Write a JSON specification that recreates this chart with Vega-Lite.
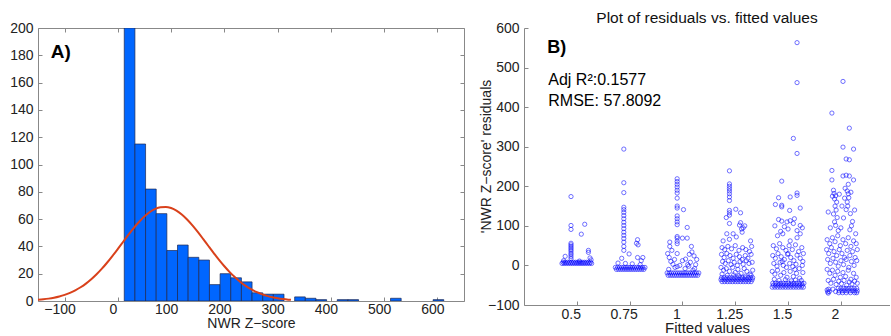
{
  "$schema": "https://vega.github.io/schema/vega-lite/v6.json",
  "background": "white",
  "padding": {"left": 9, "top": 10, "right": 0, "bottom": 0},
  "bounds": "flush",
  "spacing": 60,
  "config": {
    "font": "Liberation Sans",
    "view": {"stroke": null},
    "axis": {
      "domainColor": "#888888",
      "tickColor": "#888888",
      "labelColor": "#222222",
      "titleColor": "#222222",
      "labelFontSize": 14,
      "titleFontSize": 14,
      "titleFontWeight": "normal",
      "grid": false,
      "tickSize": -4,
      "tickWidth": 1,
      "domainWidth": 1
    }
  },
  "hconcat": [
    {
      "width": 426,
      "height": 273,
      "view": {"stroke": "#888888", "strokeWidth": 1},
      "layer": [
        {
          "data": {"values": [
            {"b0": 12, "b1": 32, "n": 200},
            {"b0": 32, "b1": 52, "n": 115},
            {"b0": 52, "b1": 72, "n": 82},
            {"b0": 72, "b1": 92, "n": 64},
            {"b0": 92, "b1": 112, "n": 37},
            {"b0": 112, "b1": 132, "n": 41},
            {"b0": 132, "b1": 152, "n": 32},
            {"b0": 152, "b1": 172, "n": 30},
            {"b0": 172, "b1": 192, "n": 12},
            {"b0": 192, "b1": 212, "n": 20},
            {"b0": 212, "b1": 232, "n": 17},
            {"b0": 232, "b1": 252, "n": 14},
            {"b0": 252, "b1": 272, "n": 6},
            {"b0": 272, "b1": 292, "n": 5},
            {"b0": 292, "b1": 312, "n": 5},
            {"b0": 332, "b1": 352, "n": 3},
            {"b0": 352, "b1": 372, "n": 2},
            {"b0": 372, "b1": 392, "n": 1},
            {"b0": 412, "b1": 432, "n": 1},
            {"b0": 432, "b1": 452, "n": 1},
            {"b0": 512, "b1": 532, "n": 2},
            {"b0": 592, "b1": 612, "n": 1}
          ]},
          "mark": {"type": "rect", "fill": "#0066FF", "stroke": "#1c2650", "strokeWidth": 0.7, "clip": true},
          "encoding": {
            "x": {"field": "b0", "type": "quantitative",
                  "scale": {"domain": [-150, 650], "nice": false, "zero": false},
                  "axis": {"values": [-100, 0, 100, 200, 300, 400, 500, 600], "domain": false, "title": "NWR Z−score", "labelOffset": -5, "labelPadding": 5, "titlePadding": 0}},
            "x2": {"field": "b1"},
            "y": {"field": "n", "type": "quantitative",
                  "scale": {"domain": [0, 200], "nice": false},
                  "axis": {"values": [0, 20, 40, 60, 80, 100, 120, 140, 160, 180, 200], "domain": false, "title": null, "labelPadding": 9}},
            "y2": {"datum": 0}
          }
        },
        {
          "data": {"values": [
            {"x": -150, "f": 0.86}, {"x": -140, "f": 1.23}, {"x": -130, "f": 1.74}, {"x": -120, "f": 2.43},
            {"x": -110, "f": 3.33}, {"x": -100, "f": 4.49}, {"x": -90, "f": 5.97}, {"x": -80, "f": 7.81},
            {"x": -70, "f": 10.06}, {"x": -60, "f": 12.76}, {"x": -50, "f": 15.93}, {"x": -40, "f": 19.57},
            {"x": -30, "f": 23.69}, {"x": -20, "f": 28.21}, {"x": -10, "f": 33.09}, {"x": 0, "f": 38.2},
            {"x": 10, "f": 43.42}, {"x": 20, "f": 48.59}, {"x": 30, "f": 53.53}, {"x": 40, "f": 58.06},
            {"x": 50, "f": 62.0}, {"x": 60, "f": 65.18}, {"x": 70, "f": 67.46}, {"x": 80, "f": 68.74},
            {"x": 90, "f": 68.95}, {"x": 100, "f": 68.1}, {"x": 110, "f": 66.21}, {"x": 120, "f": 63.37},
            {"x": 130, "f": 59.72}, {"x": 140, "f": 55.4}, {"x": 150, "f": 50.6}, {"x": 160, "f": 45.51},
            {"x": 170, "f": 40.28}, {"x": 180, "f": 35.11}, {"x": 190, "f": 30.12}, {"x": 200, "f": 25.45},
            {"x": 210, "f": 21.16}, {"x": 220, "f": 17.33}, {"x": 230, "f": 13.97}, {"x": 240, "f": 11.08},
            {"x": 250, "f": 8.66}, {"x": 260, "f": 6.66}, {"x": 270, "f": 5.04}, {"x": 280, "f": 3.76},
            {"x": 290, "f": 2.76}, {"x": 300, "f": 1.99}, {"x": 310, "f": 1.42}, {"x": 320, "f": 0.99},
            {"x": 325, "f": 0.83}
          ]},
          "mark": {"type": "line", "color": "#D9411B", "strokeWidth": 2, "clip": true, "interpolate": "monotone"},
          "encoding": {
            "x": {"field": "x", "type": "quantitative",
                  "axis": {"orient": "top", "values": [-100, 0, 100, 200, 300, 400, 500, 600], "labels": false, "domain": false, "title": null}},
            "y": {"field": "f", "type": "quantitative",
                  "axis": {"orient": "right", "values": [0, 20, 40, 60, 80, 100, 120, 140, 160, 180, 200], "labels": false, "domain": false, "title": null}}
          }
        },
        {
          "data": {"values": [{"t": "A)"}]},
          "mark": {"type": "text", "fontSize": 19, "fontWeight": "bold", "align": "left", "baseline": "alphabetic", "color": "#000000"},
          "encoding": {
            "x": {"datum": -126, "type": "quantitative", "axis": null},
            "y": {"datum": 178, "type": "quantitative", "axis": null},
            "text": {"field": "t"}
          }
        }
      ],
      "resolve": {"axis": {"x": "independent", "y": "independent"}}
    },
    {
      "width": 366,
      "height": 277,
      "title": {"text": "Plot of residuals vs. fitted values", "fontSize": 15.5, "fontWeight": "normal", "color": "#111111", "offset": -5},
      "layer": [
        {
          "data": {"values": [
            {"x":0.89,"y":174},{"x":0.89,"y":101},{"x":0.89,"y":91},{"x":1.15,"y":104},{"x":1.085,"y":79},
            {"x":0.89,"y":56},{"x":0.89,"y":52},{"x":0.89,"y":48},{"x":0.89,"y":44},{"x":0.89,"y":40},{"x":0.89,"y":36},{"x":0.89,"y":31},{"x":0.89,"y":27},{"x":0.89,"y":22},{"x":0.89,"y":17},
            {"x":1.22,"y":38},{"x":1.22,"y":33},{"x":0.78,"y":23},{"x":1.25,"y":19},{"x":1.27,"y":14},{"x":0.75,"y":12},{"x":1.05,"y":11},
            {"x":0.72,"y":5},{"x":0.76,"y":5},{"x":0.8,"y":5},{"x":0.84,"y":5},{"x":0.88,"y":5},{"x":0.92,"y":5},{"x":0.96,"y":5},{"x":1.0,"y":5},{"x":1.04,"y":5},{"x":1.08,"y":5},{"x":1.12,"y":5},{"x":1.16,"y":5},{"x":1.2,"y":5},{"x":1.24,"y":5},{"x":1.28,"y":5},
            {"x":0.74,"y":8},{"x":0.78,"y":8},{"x":0.82,"y":8},{"x":0.86,"y":8},{"x":0.9,"y":8},{"x":0.94,"y":8},{"x":0.98,"y":8},{"x":1.02,"y":8},{"x":1.06,"y":8},{"x":1.1,"y":8},{"x":1.14,"y":8},{"x":1.18,"y":8},{"x":1.22,"y":8},{"x":1.26,"y":8},

            {"x":1.89,"y":294},{"x":1.89,"y":209},{"x":1.89,"y":184},
            {"x":1.89,"y":147},{"x":1.89,"y":141},{"x":1.89,"y":134},{"x":1.89,"y":126},{"x":1.89,"y":118},{"x":1.89,"y":109},{"x":1.89,"y":101},{"x":1.89,"y":93},{"x":1.89,"y":84},{"x":1.89,"y":76},{"x":1.89,"y":68},{"x":1.89,"y":59},{"x":1.89,"y":48},{"x":1.89,"y":38},
            {"x":2.15,"y":65},{"x":2.13,"y":56},{"x":2.16,"y":52},{"x":1.99,"y":29},{"x":1.85,"y":18},{"x":2.15,"y":20},{"x":2.25,"y":20},{"x":2.22,"y":12},{"x":1.78,"y":6},{"x":2.05,"y":4},{"x":2.2,"y":2},{"x":1.92,"y":5},
            {"x":1.73,"y":-5},{"x":1.77,"y":-5},{"x":1.81,"y":-5},{"x":1.85,"y":-5},{"x":1.89,"y":-5},{"x":1.93,"y":-5},{"x":1.97,"y":-5},{"x":2.01,"y":-5},{"x":2.05,"y":-5},{"x":2.09,"y":-5},{"x":2.13,"y":-5},{"x":2.17,"y":-5},{"x":2.21,"y":-5},{"x":2.25,"y":-5},{"x":2.29,"y":-5},
            {"x":1.75,"y":-10},{"x":1.79,"y":-10},{"x":1.83,"y":-10},{"x":1.87,"y":-10},{"x":1.91,"y":-10},{"x":1.95,"y":-10},{"x":1.99,"y":-10},{"x":2.03,"y":-10},{"x":2.07,"y":-10},{"x":2.11,"y":-10},{"x":2.15,"y":-10},{"x":2.19,"y":-10},{"x":2.23,"y":-10},{"x":2.27,"y":-10},

            {"x":2.9,"y":219},{"x":2.9,"y":212},{"x":2.9,"y":205},{"x":2.9,"y":198},{"x":2.9,"y":190},{"x":2.9,"y":183},{"x":2.9,"y":170},{"x":2.9,"y":150},{"x":2.9,"y":145},{"x":2.9,"y":125},{"x":2.9,"y":118},{"x":2.9,"y":110},{"x":2.9,"y":103},{"x":2.9,"y":73},{"x":2.9,"y":69},{"x":2.9,"y":61},{"x":2.9,"y":55},
            {"x":3.02,"y":141},{"x":3.09,"y":96},{"x":3.0,"y":69},{"x":3.09,"y":69},{"x":2.76,"y":59},{"x":2.76,"y":48},{"x":3.17,"y":48},{"x":3.18,"y":34},{"x":3.13,"y":28},{"x":3.22,"y":24},{"x":3.27,"y":15},
            {"x":2.75,"y":20},{"x":2.78,"y":10},{"x":2.82,"y":3},{"x":2.86,"y":-5},{"x":2.95,"y":0},{"x":3.05,"y":-8},{"x":3.1,"y":2},{"x":3.15,"y":8},{"x":3.25,"y":2},{"x":2.74,"y":-10},{"x":3.2,"y":-12},{"x":3.0,"y":12},{"x":2.9,"y":-3},{"x":2.72,"y":30},{"x":2.8,"y":38},{"x":2.9,"y":30},{"x":3.06,"y":16},{"x":3.12,"y":-2},{"x":3.23,"y":-8},{"x":2.85,"y":15},
            {"x":2.71,"y":-19},{"x":2.75,"y":-19},{"x":2.79,"y":-19},{"x":2.83,"y":-19},{"x":2.87,"y":-19},{"x":2.91,"y":-19},{"x":2.95,"y":-19},{"x":2.99,"y":-19},{"x":3.03,"y":-19},{"x":3.07,"y":-19},{"x":3.11,"y":-19},{"x":3.15,"y":-19},{"x":3.19,"y":-19},{"x":3.23,"y":-19},{"x":3.27,"y":-19},{"x":3.31,"y":-19},
            {"x":2.73,"y":-25},{"x":2.77,"y":-25},{"x":2.81,"y":-25},{"x":2.85,"y":-25},{"x":2.89,"y":-25},{"x":2.93,"y":-25},{"x":2.97,"y":-25},{"x":3.01,"y":-25},{"x":3.05,"y":-25},{"x":3.09,"y":-25},{"x":3.13,"y":-25},{"x":3.17,"y":-25},{"x":3.21,"y":-25},{"x":3.25,"y":-25},{"x":3.29,"y":-25},

            {"x":3.89,"y":239},{"x":3.89,"y":206},{"x":3.89,"y":200},{"x":3.89,"y":194},{"x":3.89,"y":188},{"x":3.89,"y":181},{"x":3.89,"y":173},{"x":3.89,"y":164},{"x":3.89,"y":139},{"x":3.89,"y":133},{"x":3.89,"y":127},
            {"x":4.01,"y":142},{"x":4.1,"y":133},{"x":3.83,"y":121},{"x":3.89,"y":106},{"x":4.1,"y":108},{"x":4.08,"y":102},{"x":4.12,"y":92},{"x":4.13,"y":84},{"x":3.84,"y":80},{"x":3.89,"y":66},{"x":3.96,"y":80},{"x":4.02,"y":72},{"x":3.77,"y":62},{"x":4.29,"y":62},{"x":4.18,"y":100},{"x":4.15,"y":95},
            {"x":3.75,"y":45},{"x":3.8,"y":40},{"x":3.86,"y":48},{"x":3.93,"y":42},{"x":4.0,"y":50},{"x":4.07,"y":38},{"x":4.14,"y":45},{"x":4.2,"y":40},{"x":4.27,"y":35},{"x":4.31,"y":48},
            {"x":3.74,"y":28},{"x":3.79,"y":20},{"x":3.84,"y":30},{"x":3.9,"y":25},{"x":3.96,"y":18},{"x":4.02,"y":28},{"x":4.08,"y":22},{"x":4.13,"y":15},{"x":4.19,"y":25},{"x":4.24,"y":18},{"x":4.3,"y":28},
            {"x":3.76,"y":10},{"x":3.81,"y":5},{"x":3.87,"y":12},{"x":3.92,"y":2},{"x":3.98,"y":8},{"x":4.04,"y":0},{"x":4.09,"y":10},{"x":4.15,"y":3},{"x":4.21,"y":12},{"x":4.26,"y":5},{"x":4.32,"y":8},
            {"x":3.73,"y":-5},{"x":3.78,"y":-12},{"x":3.83,"y":-8},{"x":3.89,"y":-15},{"x":3.95,"y":-5},{"x":4.0,"y":-18},{"x":4.05,"y":-10},{"x":4.11,"y":-20},{"x":4.17,"y":-8},{"x":4.22,"y":-15},{"x":4.28,"y":-22},{"x":4.33,"y":-12},
            {"x":3.75,"y":-22},{"x":3.85,"y":-25},{"x":3.97,"y":-24},{"x":4.07,"y":-26},{"x":4.19,"y":-27},{"x":4.3,"y":-25},
            {"x":3.74,"y":-31},{"x":3.79,"y":-31},{"x":3.84,"y":-31},{"x":3.89,"y":-31},{"x":3.94,"y":-31},{"x":3.99,"y":-31},{"x":4.04,"y":-31},{"x":4.09,"y":-31},{"x":4.14,"y":-31},{"x":4.19,"y":-31},{"x":4.24,"y":-31},{"x":4.29,"y":-31},{"x":4.33,"y":-31},
            {"x":3.73,"y":-36},{"x":3.77,"y":-36},{"x":3.82,"y":-36},{"x":3.87,"y":-36},{"x":3.92,"y":-36},{"x":3.97,"y":-36},{"x":4.02,"y":-36},{"x":4.07,"y":-36},{"x":4.12,"y":-36},{"x":4.17,"y":-36},{"x":4.22,"y":-36},{"x":4.27,"y":-36},{"x":4.32,"y":-36},
            {"x":3.75,"y":-41},{"x":3.8,"y":-41},{"x":3.85,"y":-41},{"x":3.9,"y":-41},{"x":3.95,"y":-41},{"x":4.0,"y":-41},{"x":4.05,"y":-41},{"x":4.1,"y":-41},{"x":4.15,"y":-41},{"x":4.2,"y":-41},{"x":4.25,"y":-41},{"x":4.3,"y":-41},

            {"x":5.17,"y":563},{"x":5.17,"y":462},{"x":5.1,"y":321},{"x":5.17,"y":283},{"x":4.88,"y":213},{"x":5.17,"y":183},{"x":5.17,"y":177},{"x":5.04,"y":173},{"x":4.82,"y":171},{"x":4.76,"y":154},{"x":4.88,"y":152},{"x":4.88,"y":148},{"x":5.23,"y":145},{"x":5.03,"y":139},
            {"x":4.82,"y":116},{"x":4.88,"y":112},{"x":4.98,"y":110},{"x":5.04,"y":113},{"x":5.23,"y":101},{"x":5.23,"y":80},{"x":5.1,"y":106},{"x":4.86,"y":86},{"x":4.9,"y":80},{"x":5.0,"y":92},{"x":5.04,"y":62},{"x":5.17,"y":88},{"x":5.17,"y":70},{"x":4.75,"y":100},{"x":4.8,"y":75},{"x":5.27,"y":95},{"x":4.93,"y":98},{"x":5.12,"y":118},
            {"x":4.72,"y":50},{"x":4.78,"y":42},{"x":4.84,"y":55},{"x":4.9,"y":45},{"x":4.96,"y":38},{"x":5.02,"y":50},{"x":5.08,"y":40},{"x":5.14,"y":52},{"x":5.2,"y":35},{"x":5.26,"y":45},{"x":5.29,"y":30},
            {"x":4.71,"y":25},{"x":4.76,"y":18},{"x":4.81,"y":30},{"x":4.87,"y":22},{"x":4.93,"y":15},{"x":4.99,"y":28},{"x":5.05,"y":20},{"x":5.11,"y":12},{"x":5.17,"y":26},{"x":5.23,"y":18},{"x":5.28,"y":10},
            {"x":4.73,"y":5},{"x":4.79,"y":-2},{"x":4.85,"y":8},{"x":4.91,"y":0},{"x":4.97,"y":-5},{"x":5.03,"y":5},{"x":5.09,"y":-3},{"x":5.15,"y":3},{"x":5.21,"y":-8},{"x":5.27,"y":0},
            {"x":4.7,"y":-15},{"x":4.75,"y":-22},{"x":4.8,"y":-12},{"x":4.86,"y":-25},{"x":4.92,"y":-18},{"x":4.98,"y":-30},{"x":5.04,"y":-15},{"x":5.1,"y":-28},{"x":5.16,"y":-20},{"x":5.22,"y":-32},{"x":5.28,"y":-18},
            {"x":4.74,"y":-35},{"x":4.83,"y":-38},{"x":4.95,"y":-36},{"x":5.06,"y":-39},{"x":5.14,"y":-37},{"x":5.25,"y":-38},{"x":4.89,"y":10},{"x":5.0,"y":30},{"x":5.13,"y":-10},
            {"x":4.71,"y":-45},{"x":4.76,"y":-45},{"x":4.81,"y":-45},{"x":4.86,"y":-45},{"x":4.91,"y":-45},{"x":4.96,"y":-45},{"x":5.01,"y":-45},{"x":5.06,"y":-45},{"x":5.11,"y":-45},{"x":5.16,"y":-45},{"x":5.21,"y":-45},{"x":5.26,"y":-45},{"x":5.3,"y":-45},
            {"x":4.72,"y":-50},{"x":4.77,"y":-50},{"x":4.82,"y":-50},{"x":4.87,"y":-50},{"x":4.92,"y":-50},{"x":4.97,"y":-50},{"x":5.02,"y":-50},{"x":5.07,"y":-50},{"x":5.12,"y":-50},{"x":5.17,"y":-50},{"x":5.22,"y":-50},{"x":5.27,"y":-50},
            {"x":4.7,"y":-55},{"x":4.75,"y":-55},{"x":4.8,"y":-55},{"x":4.85,"y":-55},{"x":4.9,"y":-55},{"x":4.95,"y":-55},{"x":5.0,"y":-55},{"x":5.05,"y":-55},{"x":5.1,"y":-55},{"x":5.15,"y":-55},{"x":5.2,"y":-55},{"x":5.25,"y":-55},{"x":5.29,"y":-55},

            {"x":6.04,"y":465},{"x":5.83,"y":385},{"x":6.16,"y":347},{"x":6.04,"y":299},{"x":6.24,"y":294},{"x":6.1,"y":269},{"x":6.16,"y":267},{"x":5.83,"y":240},{"x":5.83,"y":216},{"x":6.04,"y":226},{"x":6.16,"y":226},{"x":6.24,"y":216},{"x":6.1,"y":228},{"x":6.14,"y":205},
            {"x":5.86,"y":190},{"x":5.87,"y":182},{"x":5.9,"y":176},{"x":5.88,"y":168},{"x":5.92,"y":160},{"x":5.89,"y":150},{"x":5.91,"y":140},{"x":5.86,"y":130},{"x":5.93,"y":121},{"x":5.88,"y":110},{"x":5.9,"y":101},{"x":6.08,"y":195},{"x":6.12,"y":188},{"x":6.14,"y":181},{"x":6.15,"y":171},{"x":6.12,"y":160},{"x":6.13,"y":150},{"x":6.1,"y":141},{"x":6.18,"y":131},{"x":6.05,"y":120},{"x":6.22,"y":111},{"x":6.0,"y":95},{"x":5.97,"y":180},{"x":6.2,"y":100},{"x":5.76,"y":135},{"x":6.26,"y":140},{"x":6.02,"y":150},{"x":6.07,"y":170},{"x":5.95,"y":88},{"x":6.17,"y":90},{"x":5.8,"y":95},{"x":6.28,"y":80},{"x":5.84,"y":175},{"x":6.19,"y":185},
            {"x":5.74,"y":65},{"x":5.79,"y":55},{"x":5.84,"y":70},{"x":5.89,"y":60},{"x":5.94,"y":75},{"x":5.99,"y":50},{"x":6.04,"y":65},{"x":6.09,"y":55},{"x":6.14,"y":70},{"x":6.19,"y":48},{"x":6.24,"y":62},{"x":6.29,"y":55},{"x":6.31,"y":40},
            {"x":5.73,"y":40},{"x":5.77,"y":30},{"x":5.82,"y":45},{"x":5.87,"y":35},{"x":5.92,"y":25},{"x":5.97,"y":40},{"x":6.02,"y":30},{"x":6.07,"y":20},{"x":6.12,"y":38},{"x":6.17,"y":25},{"x":6.22,"y":35},{"x":6.27,"y":20},
            {"x":5.75,"y":15},{"x":5.8,"y":5},{"x":5.85,"y":18},{"x":5.9,"y":8},{"x":5.95,"y":-2},{"x":6.0,"y":12},{"x":6.05,"y":2},{"x":6.1,"y":15},{"x":6.15,"y":-5},{"x":6.2,"y":10},{"x":6.25,"y":0},{"x":6.3,"y":12},
            {"x":5.74,"y":-10},{"x":5.79,"y":-20},{"x":5.84,"y":-12},{"x":5.89,"y":-25},{"x":5.94,"y":-15},{"x":5.99,"y":-30},{"x":6.04,"y":-18},{"x":6.09,"y":-28},{"x":6.14,"y":-12},{"x":6.19,"y":-35},{"x":6.24,"y":-20},{"x":6.29,"y":-30},
            {"x":5.76,"y":-38},{"x":5.81,"y":-45},{"x":5.86,"y":-35},{"x":5.91,"y":-48},{"x":5.96,"y":-40},{"x":6.01,"y":-46},{"x":6.06,"y":-38},{"x":6.11,"y":-50},{"x":6.16,"y":-42},{"x":6.21,"y":-47},{"x":6.26,"y":-40},{"x":6.31,"y":-45},
            {"x":5.74,"y":-62},{"x":5.75,"y":-67},{"x":5.77,"y":-60},{"x":5.78,"y":-66},{"x":5.76,"y":-70},{"x":5.85,"y":-60},{"x":5.9,"y":-66},
            {"x":5.95,"y":-58},{"x":6.0,"y":-58},{"x":6.05,"y":-58},{"x":6.1,"y":-58},{"x":6.15,"y":-58},{"x":6.2,"y":-58},{"x":6.25,"y":-58},{"x":6.3,"y":-58},
            {"x":5.97,"y":-64},{"x":6.02,"y":-64},{"x":6.07,"y":-64},{"x":6.12,"y":-64},{"x":6.17,"y":-64},{"x":6.22,"y":-64},{"x":6.27,"y":-64},{"x":6.31,"y":-64},
            {"x":5.96,"y":-69},{"x":6.03,"y":-69},{"x":6.1,"y":-69},{"x":6.18,"y":-69},{"x":6.26,"y":-69},{"x":6.3,"y":-69}
          ]},
          "mark": {"type": "point", "shape": "circle", "filled": false, "color": "#0000FF", "size": 18, "strokeWidth": 0.8, "opacity": 0.7},
          "encoding": {
            "x": {"field": "x", "type": "quantitative",
                  "scale": {"domain": [0, 6.93], "nice": false, "zero": false},
                  "axis": {"values": [1, 2, 3, 4, 5, 6], "labelExpr": "['','0.5','0.75','1','1.25','1.5','2'][datum.value]", "title": "Fitted values", "titleFontSize": 15, "labelOffset": -6, "labelPadding": 6, "titlePadding": -1}},
            "y": {"field": "y", "type": "quantitative",
                  "scale": {"domain": [-100, 600], "nice": false},
                  "axis": {"values": [-100, 0, 100, 200, 300, 400, 500, 600], "title": "'NWR Z−score' residuals", "labelPadding": 9, "titleX": -31, "titleY": 128}}
          }
        },
        {
          "data": {"values": [{"t": "B)"}]},
          "mark": {"type": "text", "fontSize": 18, "fontWeight": "bold", "align": "left", "baseline": "alphabetic", "color": "#000000"},
          "encoding": {
            "x": {"datum": 0.44, "type": "quantitative", "axis": null},
            "y": {"datum": 536, "type": "quantitative", "axis": null},
            "text": {"field": "t"}
          }
        },
        {
          "data": {"values": [{"t": "Adj R²:0.1577"}]},
          "mark": {"type": "text", "fontSize": 16, "align": "left", "baseline": "alphabetic", "color": "#000000"},
          "encoding": {
            "x": {"datum": 0.46, "type": "quantitative", "axis": null},
            "y": {"datum": 456, "type": "quantitative", "axis": null},
            "text": {"field": "t"}
          }
        },
        {
          "data": {"values": [{"t": "RMSE: 57.8092"}]},
          "mark": {"type": "text", "fontSize": 16, "align": "left", "baseline": "alphabetic", "color": "#000000"},
          "encoding": {
            "x": {"datum": 0.46, "type": "quantitative", "axis": null},
            "y": {"datum": 404, "type": "quantitative", "axis": null},
            "text": {"field": "t"}
          }
        }
      ],
      "resolve": {"axis": {"x": "independent", "y": "independent"}}
    }
  ]
}
